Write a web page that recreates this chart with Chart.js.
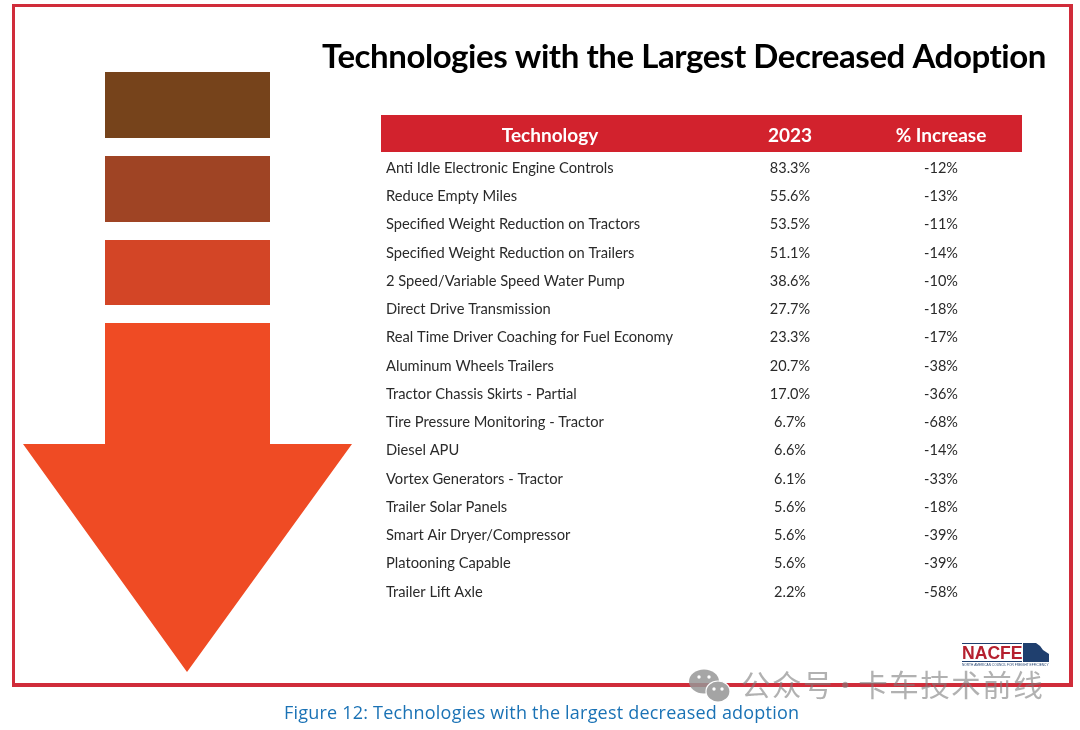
<!DOCTYPE html>
<html><head><meta charset="utf-8">
<style>html,body{margin:0;padding:0;background:#fff;overflow:hidden}canvas{display:block}</style>
<script src="https://cdn.jsdelivr.net/npm/chart.js@4"></script>
</head><body>
<canvas id="c" width="1080" height="730"></canvas>
<script>
const technologies = ["Anti Idle Electronic Engine Controls","Reduce Empty Miles","Specified Weight Reduction on Tractors","Specified Weight Reduction on Trailers","2 Speed/Variable Speed Water Pump","Direct Drive Transmission","Real Time Driver Coaching for Fuel Economy","Aluminum Wheels Trailers","Tractor Chassis Skirts - Partial","Tire Pressure Monitoring - Tractor","Diesel APU","Vortex Generators - Tractor","Trailer Solar Panels","Smart Air Dryer/Compressor","Platooning Capable","Trailer Lift Axle"];
const adoption2023 = [83.3,55.6,53.5,51.1,38.6,27.7,23.3,20.7,17.0,6.7,6.6,6.1,5.6,5.6,5.6,2.2];
const percentIncrease = [-12,-13,-11,-14,-10,-18,-17,-38,-36,-68,-14,-33,-18,-39,-39,-58];
const columnHeaders = ["Technology","2023","% Increase"];
const titleText = "Technologies with the Largest Decreased Adoption";
const captionText = "Figure 12: Technologies with the largest decreased adoption";
const watermarkText = "公众号 · 卡车技术前线";

const COL = {tech:169, year:409, pct:560};
const bodyFont = "Lato, 'Noto Sans', sans-serif";

function poly(ctx, pts, fill){ctx.fillStyle=fill;ctx.beginPath();pts.forEach((p,i)=>i?ctx.lineTo(p[0],p[1]):ctx.moveTo(p[0],p[1]));ctx.closePath();ctx.fill();}
function fitSpacing(ctx,text,width){ctx.letterSpacing='0px';return ((width-ctx.measureText(text).width)/(text.length-1)).toFixed(3)+'px';}

const frame = {
  id:'frame',
  beforeDraw(chart){
    const ctx=chart.ctx;
    ctx.save();
    ctx.fillStyle='#fff';ctx.fillRect(0,0,1080,730);
    ctx.fillStyle='#d02c3a';
    ctx.fillRect(12,4,1061,3);ctx.fillRect(12,683,1061,4);ctx.fillRect(12,4,3,683);ctx.fillRect(1069,4,4,683);
    ctx.fillStyle='#76431b';ctx.fillRect(105,72,165,66);
    ctx.fillStyle='#9f4424';ctx.fillRect(105,156,165,66);
    ctx.fillStyle='#d34526';ctx.fillRect(105,240,165,65);
    poly(ctx,[[105,323],[270,323],[270,444],[352,444],[187,672],[23,444],[105,444]],'#ef4b24');
    ctx.fillStyle='#d2222d';ctx.fillRect(381,115,641,37);
    ctx.fillStyle='#000';ctx.font="bold 33px Lato, 'Open Sans', sans-serif";ctx.textAlign='left';ctx.textBaseline='alphabetic';
    ctx.letterSpacing=fitSpacing(ctx,titleText,725);
    ctx.fillText(titleText,322,68);
    ctx.fillStyle='#1a72b5';ctx.font="18px 'Open Sans', sans-serif";
    ctx.letterSpacing=fitSpacing(ctx,captionText,515);
    ctx.fillText(captionText,284,719);
    ctx.letterSpacing='0px';
    // logo
    ctx.fillStyle='#b5202f';ctx.font="bold 17.6px 'Liberation Sans', sans-serif";
    ctx.fillText("NACFE",962,659);
    ctx.fillStyle='#1f3f6e';
    ctx.fillRect(962,643,60,1);ctx.fillRect(962,661,60,1);
    ctx.beginPath();ctx.moveTo(1023,643);ctx.lineTo(1036,643);ctx.quadraticCurveTo(1040,645,1043,650);ctx.lineTo(1049,654);ctx.lineTo(1049,662);ctx.lineTo(1023,662);ctx.closePath();ctx.fill();
    ctx.font="3.2px 'Liberation Sans', sans-serif";
    ctx.fillText("NORTH AMERICAN COUNCIL FOR FREIGHT EFFICIENCY",962,666);
    ctx.restore();
  },
  afterDatasetsDraw(chart){
    const ctx=chart.ctx;
    ctx.save();
    ctx.fillStyle='#2a2a2a';ctx.font="14.5px "+bodyFont;ctx.textAlign='center';ctx.textBaseline='middle';
    chart.getDatasetMeta(0).data.forEach((p,i)=>ctx.fillText(adoption2023[i].toFixed(1)+'%',p.x,p.y));
    chart.getDatasetMeta(1).data.forEach((p,i)=>ctx.fillText(percentIncrease[i]+'%',p.x,p.y));
    ctx.restore();
  },
  afterDraw(chart){
    const ctx=chart.ctx;
    ctx.save();
    ctx.fillStyle='rgba(125,125,125,0.6)';
    ctx.font="29.5px 'Noto Sans CJK SC', sans-serif";ctx.textAlign='left';ctx.textBaseline='alphabetic';
    ctx.letterSpacing='1.5px';ctx.wordSpacing='-11.5px';
    ctx.fillText(watermarkText,741,696);
    ctx.letterSpacing='0px';ctx.wordSpacing='0px';
    ctx.fillStyle='rgba(150,150,150,0.85)';
    ctx.beginPath();ctx.ellipse(704,681.5,15,12,0,0,7);ctx.fill();
    ctx.strokeStyle='#fff';ctx.lineWidth=1.2;
    ctx.fillStyle='#a4a4a4';
    ctx.beginPath();ctx.ellipse(718,691.5,12,10.5,0,0,7);ctx.fill();ctx.stroke();
    ctx.fillStyle='#fff';
    [[699,677],[709,677],[714,689],[722,689]].forEach(e=>{ctx.beginPath();ctx.arc(e[0],e[1],1.7,0,7);ctx.fill();});
    ctx.restore();
  }
};

new Chart(document.getElementById('c'),{
  type:'scatter',
  data:{datasets:[
    {label:columnHeaders[1],data:adoption2023.map((v,i)=>({x:COL.year,y:technologies[i]})),pointRadius:0},
    {label:columnHeaders[2],data:percentIncrease.map((v,i)=>({x:COL.pct,y:technologies[i]})),pointRadius:0}
  ]},
  options:{
    responsive:false,animation:false,
    layout:{padding:{left:381,right:58,top:115,bottom:124}},
    plugins:{legend:{display:false},tooltip:{enabled:false},title:{display:false}},
    scales:{
      x:{type:'linear',position:'top',min:0,max:641,grid:{display:false},border:{display:false},
        afterBuildTicks(s){s.ticks=[{value:COL.tech},{value:COL.year},{value:COL.pct}];},
        afterTickToLabelConversion(s){s.ticks.forEach((t,i)=>t.label=columnHeaders[i]);},
        afterFit(s){s.height=39;},
        ticks:{color:'#fff',maxRotation:0,autoSkip:false,padding:-1,font:{family:"Lato, 'Open Sans', sans-serif",size:19,weight:'bold'}}},
      y:{type:'category',labels:technologies,offset:true,position:'left',grid:{display:false},border:{display:false},
        afterFit(s){s.width=0;},
        ticks:{mirror:true,padding:5,color:'#2a2a2a',autoSkip:false,font:{family:bodyFont,size:14.7}}}
    }
  },
  plugins:[frame]
});
</script>
</body></html>
